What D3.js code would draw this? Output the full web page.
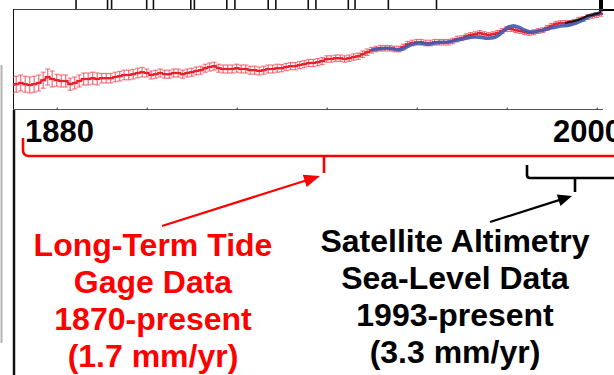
<!DOCTYPE html>
<meta charset="utf-8">
<style>
  body { margin: 0; background: #fff; }
  svg { display: block; font-family: "Liberation Sans", Arial, sans-serif; font-weight: bold; }
</style>
<div id="container"></div>
<script src="https://cdn.jsdelivr.net/npm/d3@7"></script>
<script>

// tide gauge record (mm), one value per year starting 1870
const tideStart = 1870;
const tideLevel = [
  -140, -138, -135, -138, -140, -138, -135, -128, -120, -125,
  -128, -130, -130, -138, -135, -130, -125, -125, -123, -125,
  -123, -123, -123, -120, -118, -115, -115, -113, -110, -108,
  -110, -115, -113, -110, -113, -113, -110, -110, -113, -110,
  -108, -105, -103,  -98,  -95,  -93,  -98, -100, -100, -100,
   -98, -100, -100, -103, -103, -105, -103, -100, -100,  -98,
   -98,  -95,  -93,  -93,  -90,  -88,  -85,  -85,  -83,  -80,
   -75,  -75,  -73,  -73,  -75,  -73,  -70,  -68,  -63,  -58,
   -53,  -50,  -48,  -48,  -48,  -50,  -50,  -45,  -38,  -35,
   -33,  -33,  -35,  -35,  -33,  -33,  -33,  -33,  -30,  -25,
   -23,  -18,  -15,  -13,  -10,  -13,  -15,  -13,  -10,   -5,
     0,    0,   -3,   -5,   -8,  -10,   -8,   -5,   -3,    3,
     8,   13,   15,   15,   15,   18,   23,   25,   30,   33,
    35,   38
];
// error half-width (mm) by decade, 1870s .. 2000s
const tideErrByDecade = [20, 15, 12, 10, 10, 10, 9, 8, 7, 7, 6, 6, 6, 6];

// smoothed reconstruction (blue), one value per year starting 1950
const reconStart = 1950;
const reconLevel = [
  -53, -50, -49, -48, -48, -50, -53, -50, -43, -38,
  -35, -35, -38, -38, -35, -33, -33, -33, -30, -28,
  -25, -23, -20, -20, -20, -23, -23, -23, -18,  -8,
    3,   8,   8,   3,  -3,  -8,  -8,  -5,  -3,   0,
    3,   5,   8,   8,  10,  13,  18,  23,  30,  35,
   38,  40
];

// satellite altimetry (black), one value per year starting 1993
const altStart = 1993;
const altLevel = [15, 18, 20, 23, 28, 33, 35, 38, 43];

// tick marks of the panel above, cut off at the top edge
const topTickYears = [1884.3, 1891.3, 1892.2, 1900, 1901.5, 1909.8, 1910.6, 1917.8, 1919.6,
  1927, 1928.7, 1935.9, 1937.6, 1944.8, 1946.3, 1953.7, 1964.4];

const axisTicks = [1880, 1900, 1920, 1940, 1960, 1980, 2000];
const yearLabels = ["1880", "2000"];

const tideText = ["Long-Term Tide", "Gage Data", "1870-present", "(1.7 mm/yr)"];
const satText = ["Satellite Altimetry", "Sea-Level Data", "1993-present", "(3.3 mm/yr)"];

const width = 614, height = 375;
const plotL = 13, plotR = 603, plotT = 9, plotB = 109;

const x = d3.scaleLinear().domain([1880, 2000]).range([56.7, 596.7]);
const y = d3.scaleLinear().domain([-200, 50]).range([plotB, plotT]);

const tide = tideLevel.map((v, i) => ({ yr: tideStart + i, v, e: tideErrByDecade[Math.floor(i / 10)] }));
const recon = reconLevel.map((v, i) => ({ yr: reconStart + i, v }));
const alt = altLevel.map((v, i) => ({ yr: altStart + i, v }));

const svg = d3.create("svg").attr("width", width).attr("height", height);

svg.append("clipPath").attr("id", "clip")
  .append("rect").attr("x", plotL).attr("y", plotT).attr("width", plotR - plotL).attr("height", plotB - plotT);

// side rules
svg.append("line").attr("x1", 1.5).attr("x2", 1.5).attr("y1", 65).attr("y2", 343)
  .attr("stroke", "#b4b4b4").attr("stroke-width", 2);
svg.append("line").attr("x1", 14).attr("x2", 14).attr("y1", 110).attr("y2", height)
  .attr("stroke", "#111").attr("stroke-width", 2.5);

// ticks of the panel above
svg.selectAll(".toptick").data(topTickYears).enter().append("line")
  .attr("x1", d => x(d)).attr("x2", d => x(d)).attr("y1", 0).attr("y2", plotT)
  .attr("stroke", "#111").attr("stroke-width", 1.6);
svg.append("line").attr("x1", 601).attr("x2", 601).attr("y1", 0).attr("y2", 11)
  .attr("stroke", "#000").attr("stroke-width", 4);
svg.append("line").attr("x1", 602).attr("x2", width).attr("y1", 10).attr("y2", 10)
  .attr("stroke", "#000").attr("stroke-width", 2);

// frame
svg.append("line").attr("x1", plotL).attr("x2", plotR).attr("y1", plotT + 0.5).attr("y2", plotT + 0.5)
  .attr("stroke", "#444").attr("stroke-width", 1);
svg.append("line").attr("x1", plotL + 0.5).attr("x2", plotL + 0.5).attr("y1", plotT).attr("y2", plotB)
  .attr("stroke", "#111").attr("stroke-width", 1);

const xAxis = svg.append("g").attr("transform", `translate(0,${plotB + 0.5})`)
  .call(d3.axisBottom(x).tickValues(axisTicks).tickSize(-2).tickFormat(""));
xAxis.select(".domain").attr("d", `M${plotL},0H${plotR}`).attr("stroke", "#555");
xAxis.selectAll(".tick line").attr("stroke", "#333");

const g = svg.append("g").attr("clip-path", "url(#clip)");

// error bars
const eb = g.selectAll(".eb").data(tide).enter().append("g").attr("stroke", "#ee3a4a").attr("stroke-opacity", 0.7);
eb.append("line").attr("x1", d => x(d.yr)).attr("x2", d => x(d.yr))
  .attr("y1", d => y(d.v - d.e)).attr("y2", d => y(d.v + d.e)).attr("stroke-width", 1.3);
eb.append("line").attr("x1", d => x(d.yr) - 2.5).attr("x2", d => x(d.yr) + 2.5)
  .attr("y1", d => y(d.v - d.e)).attr("y2", d => y(d.v - d.e)).attr("stroke-width", 1.1);
eb.append("line").attr("x1", d => x(d.yr) - 2.5).attr("x2", d => x(d.yr) + 2.5)
  .attr("y1", d => y(d.v + d.e)).attr("y2", d => y(d.v + d.e)).attr("stroke-width", 1.1);

const line = d3.line().x(d => x(d.yr)).y(d => y(d.v));

g.append("path").datum(tide).attr("d", line).attr("fill", "none")
  .attr("stroke", "#e8202c").attr("stroke-width", 1.6);
g.selectAll(".mk").data(tide).enter().append("line")
  .attr("x1", d => x(d.yr) - 3).attr("x2", d => x(d.yr) + 3)
  .attr("y1", d => y(d.v)).attr("y2", d => y(d.v))
  .attr("stroke", "#e8202c").attr("stroke-width", 2.2);

g.append("path").datum(recon).attr("d", line.curve(d3.curveBasis)).attr("fill", "none")
  .attr("stroke", "#3f5cb2").attr("stroke-width", 3.6).attr("stroke-opacity", 0.9);

g.append("path").datum(alt).attr("d", d3.line().x(d => x(d.yr)).y(d => y(d.v)).curve(d3.curveMonotoneX))
  .attr("fill", "none").attr("stroke", "#111").attr("stroke-width", 2);

// year labels
svg.selectAll(".yl").data(yearLabels).enter().append("text")
  .attr("x", (d, i) => i === 0 ? 25 : 553).attr("y", 142)
  .attr("font-size", 31).attr("fill", "#000").text(d => d);

// brackets
svg.append("path")
  .attr("d", `M23,138V150Q23,156,29,156H${width}M324,156V173`)
  .attr("fill", "none").attr("stroke", "#ff0000").attr("stroke-width", 2.6);
svg.append("path")
  .attr("d", `M527,165V175Q527,178,530,178H${width}M575,178V192`)
  .attr("fill", "none").attr("stroke", "#000").attr("stroke-width", 2.6);

// arrows
function arrow(x0, y0, x1, y1, color, len, half) {
  const dx = x1 - x0, dy = y1 - y0, L = Math.hypot(dx, dy);
  const ux = dx / L, uy = dy / L;
  const bx = x1 - ux * len, by = y1 - uy * len;
  svg.append("line").attr("x1", x0).attr("y1", y0).attr("x2", bx + ux * 2).attr("y2", by + uy * 2)
    .attr("stroke", color).attr("stroke-width", 2.2);
  svg.append("path")
    .attr("d", `M${x1},${y1}L${bx - uy * half},${by + ux * half}L${bx + uy * half},${by - ux * half}Z`)
    .attr("fill", color);
}
arrow(162, 226, 320, 176, "#ff0000", 16, 6.5);
arrow(490, 222, 572, 196, "#000", 14, 6);

// text blocks
svg.append("text").attr("x", 153).attr("text-anchor", "middle").attr("fill", "#ff0000").attr("font-size", 32)
  .selectAll("tspan").data(tideText).enter().append("tspan")
  .attr("x", 153).attr("y", (d, i) => 256 + i * 37).text(d => d);
svg.append("text").attr("x", 455).attr("text-anchor", "middle").attr("fill", "#000").attr("font-size", 32)
  .selectAll("tspan").data(satText).enter().append("tspan")
  .attr("x", 455).attr("y", (d, i) => 252 + i * 37).text(d => d);

container.append(svg.node());
</script>
